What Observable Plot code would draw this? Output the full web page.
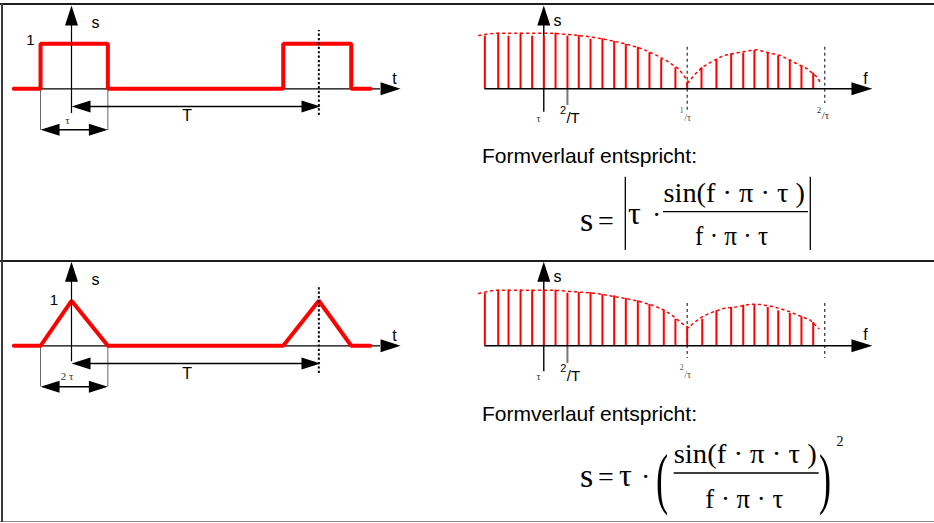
<!DOCTYPE html>
<html><head><meta charset="utf-8">
<script src="https://cdn.jsdelivr.net/npm/d3@7"></script>
<script src="https://cdn.jsdelivr.net/npm/@observablehq/plot@0.6"></script>
<style>
body{margin:0;background:#fff}
#wrap{position:relative;width:934px;height:523px;background:#fff;overflow:hidden;font-family:"Liberation Sans",Arial,sans-serif}
.panel{position:absolute}
.panel svg{overflow:visible;background:none}
.bar{position:absolute;z-index:5}
#formulas{position:absolute;left:0;top:0;z-index:4}
</style></head><body>
<div id="wrap">
  <div class="panel" id="p11" style="left:0;top:4px"></div>
  <div class="panel" id="p12" style="left:467px;top:4px"></div>
  <div class="panel" id="p21" style="left:0;top:261px"></div>
  <div class="panel" id="p22" style="left:467px;top:261px"></div>
  <div class="bar" style="left:0;top:3px;width:934px;height:2px;background:#1e1e1e"></div>
  <div class="bar" style="left:0;top:260px;width:934px;height:2px;background:#1e1e1e"></div>
  <div class="bar" style="left:0;top:520.5px;width:934px;height:1.5px;background:#8a8a8a"></div>
  <div class="bar" style="left:1px;top:3px;width:1.5px;height:519px;background:#3a3a3a"></div>
</div>
<script>
// ---------- data (time in units of tau, frequency in units of 1/tau, amplitude normalised) ----------
const rectT = [-0.857, -0.46, -0.46, 0.54, 0.54, 3.146, 3.146, 4.156, 4.156, 4.443];
const rectS = [0, 0, 1, 1, 0, 0, 1, 1, 0, 0];
const triT = [-0.857, -0.46, 0, 0.54, 3.146, 3.675, 4.156, 4.443];
const triS = [0, 0, 1, 0, 0, 1, 0, 0];

const lineF1 = [-0.411,-0.318,-0.246,-0.162,-0.081,0,0.082,0.165,0.244,0.326,0.409,0.491,0.572,0.656,0.737,0.819,0.918,1.0,1.100,1.204,1.307,1.391,1.469,1.562,1.635,1.716,1.797,1.879];
const lineS1 = [0.946,1.0,0.946,1.0,0.946,0.946,1.0,0.946,0.959,0.892,0.899,0.851,0.797,0.748,0.647,0.527,0.378,0.119,0.378,0.522,0.629,0.640,0.689,0.647,0.586,0.522,0.419,0.281];
const envF1 = [-0.453,-0.384,-0.337,0.059,0.198,0.291,0.407,0.5,0.593,0.686,0.779,0.861,0.941,1.011,1.046,1.105,1.185,1.255,1.349,1.441,1.488,1.581,1.651,1.743,1.837,1.907,1.930];
const envS1 = [0.959,0.989,1.0,1.0,0.971,0.946,0.899,0.851,0.791,0.719,0.612,0.496,0.360,0.119,0.239,0.388,0.509,0.599,0.647,0.689,0.701,0.640,0.599,0.478,0.360,0.209,0.101];

const lineF2 = [-0.411,-0.318,-0.246,-0.162,-0.081,0,0.082,0.165,0.244,0.326,0.409,0.491,0.572,0.656,0.737,0.837,0.918,1.0,1.105,1.204,1.307,1.391,1.469,1.562,1.635,1.716,1.797,1.879];
const lineS2 = [0.946,1,1,1,1,1,1,0.946,0.959,0.959,0.923,0.899,0.851,0.809,0.743,0.640,0.478,0.324,0.478,0.629,0.689,0.730,0.743,0.689,0.629,0.581,0.522,0.419];
const envF2 = [-0.453,-0.384,-0.337,0.059,0.128,0.221,0.291,0.384,0.477,0.570,0.662,0.756,0.826,0.895,0.965,1.011,1.046,1.116,1.185,1.255,1.349,1.441,1.511,1.604,1.697,1.790,1.860,1.918];
const envS2 = [0.941,0.982,1.0,1.0,0.989,0.971,0.959,0.935,0.892,0.851,0.802,0.730,0.658,0.550,0.401,0.324,0.414,0.540,0.612,0.671,0.701,0.748,0.743,0.701,0.629,0.532,0.460,0.311];

const timeTickLabels = ["1", "s", "t", "T"];
const widthLabels = ["τ", "2 τ"];
const freqAxisLabels = ["s", "f", "τ"];
const freqTickLabels1 = [["2", "/T"], ["1", "/τ"], ["2", "/τ"]];
const freqTickLabels2 = [["2", "/T"], ["2", "/τ"]];
const captionText = "Formverlauf entspricht:";

// ---------- helpers ----------
const RED = "#ff0000";
const SANS = "Liberation Sans, Arial, sans-serif";
const SERIF = "Liberation Serif, Times New Roman, serif";
function arrowSym(dir, L, W) {
  return {draw(ctx) {
    if (dir === "right") { ctx.moveTo(0,0); ctx.lineTo(-L,-W); ctx.lineTo(-L,W); }
    else if (dir === "left") { ctx.moveTo(0,0); ctx.lineTo(L,-W); ctx.lineTo(L,W); }
    else { ctx.moveTo(0,0); ctx.lineTo(-W,L); ctx.lineTo(W,L); }
    ctx.closePath();
  }};
}
function head(x, y, dir, L, W) {
  return Plot.dot([{x, y}], {x: "x", y: "y", symbol: arrowSym(dir, L, W), fill: "black", stroke: "none", r: 5});
}
function lbl(x, y, text, opts = {}) {
  return Plot.text([{x, y, text}], {x: "x", y: "y", text: "text", fontFamily: SANS, fontSize: 15, fill: "black", ...opts});
}
const zipTS = (T, S) => T.map((t, i) => ({t, s: S[i]}));
const zipFS = (F, S) => F.map((f, i) => ({f, s: S[i]}));

// ---------- time-domain panels ----------
function timePanel(sig, c) {
  return Plot.plot({
    width: 466, height: 257, margin: 0, axis: null,
    x: {domain: [-1.055, 5.869]}, y: {domain: [-3.838, 1.873]},
    style: {background: "none", overflow: "visible"},
    marks: [
      Plot.ruleX([-0.46, 0.54], {y1: 0, y2: c.grayBottom, stroke: "#666", strokeWidth: 1}),
      Plot.ruleY([0], {x1: -0.857, x2: 4.591, stroke: "black", strokeWidth: 1.2}),
      head(4.889, 0, "right", 20, 6.5),
      Plot.line(sig, {x: "t", y: "s", stroke: RED, strokeWidth: 4, strokeLinejoin: "miter", curve: "linear"}),
      Plot.ruleX([0], {y1: c.yBottom, y2: c.yTip - 0.3, stroke: "black", strokeWidth: 1.2}),
      head(0, c.yTip, "up", 20, 6.5),
      Plot.ruleX([3.675], {y1: c.dotBottom, y2: c.dotTop, stroke: "black", strokeWidth: 2, strokeDasharray: "2.2,2.2"}),
      Plot.ruleY([c.TY], {x1: 0.2, x2: 3.5, stroke: "black", strokeWidth: 1.6}),
      head(0, c.TY, "left", 19, 6),
      head(3.70, c.TY, "right", 19, 6),
      Plot.ruleY([c.tauY], {x1: -0.3, x2: 0.4, stroke: "black", strokeWidth: 1.6}),
      head(-0.46, c.tauY, "left", 19, 6),
      head(0.54, c.tauY, "right", 19, 6),
      lbl(c.one[0], c.one[1], timeTickLabels[0], {fontSize: 15}),
      lbl(0.357, 1.458, timeTickLabels[1], {fontSize: 16}),
      lbl(4.8, c.tY, timeTickLabels[2], {fontSize: 16}),
      lbl(1.719, c.TLab, timeTickLabels[3], {fontSize: 16}),
      lbl(c.wLab[0], c.wLab[1], c.wText, {fontFamily: SERIF, fontSize: c.wSize, fill: "#333"})
    ]
  });
}

// ---------- spectrum panels ----------
function freqPanel(lines, env, c) {
  const marks = [
    Plot.ruleX([0], {y1: c.yBottom, y2: c.yTip - 0.2, stroke: "black", strokeWidth: 1.4}),
    head(0, c.yTip, "up", 20, 6.5),
    Plot.ruleX(c.dashes, {x: "f", y1: "top", y2: "bottom", stroke: "black", strokeWidth: 1, strokeDasharray: "3,3"}),
    Plot.ruleX([0.165], {y1: 0, y2: c.tickBottom, stroke: "#777", strokeWidth: 2}),
    Plot.ruleX(lines, {x: "f", y1: 0, y2: "s", stroke: RED, strokeWidth: 2}),
    Plot.line(env, {x: "f", y: "s", stroke: RED, strokeWidth: 1.5, strokeDasharray: "2,4", curve: "linear"}),
    Plot.ruleY([0], {x1: -0.411, x2: 2.153, stroke: "black", strokeWidth: 1.4}),
    head(2.292, 0, "right", 21, 6.5),
    lbl(0.096, c.sY, freqAxisLabels[0], {fontSize: 16}),
    lbl(2.243, c.fY, freqAxisLabels[1], {fontSize: 16}),
    lbl(-0.037, c.tauY, freqAxisLabels[2], {fontFamily: SERIF, fontSize: 10, fill: "#333"})
  ];
  for (const t of c.ticks) {
    marks.push(lbl(t.x1, t.y1, t.a, {fontSize: t.s1, fill: t.col, fontFamily: t.font, textAnchor: "end"}));
    marks.push(lbl(t.x2, t.y2, t.b, {fontSize: t.s2, fill: t.col, fontFamily: t.font, textAnchor: "start"}));
  }
  return Plot.plot({
    width: 467, height: 257, margin: 0, axis: null,
    x: {domain: [-0.532, 2.725]}, y: {domain: [-3.106, 1.516]},
    style: {background: "none", overflow: "visible"},
    marks
  });
}

document.getElementById("p11").append(timePanel(zipTS(rectT, rectS), {
  grayBottom: -0.927, yBottom: -0.549, yTip: 1.851, dotTop: 1.296, dotBottom: -0.593,
  TY: -0.393, tauY: -0.911, one: [-0.609, 1.073], tY: 0.229, TLab: -0.593,
  wLab: [-0.059, -0.704], wText: widthLabels[0], wSize: 11
}));
document.getElementById("p21").append(timePanel(zipTS(triT, triS), {
  grayBottom: -0.911, yBottom: -0.356, yTip: 1.867, dotTop: 1.289, dotBottom: -0.616,
  TY: -0.393, tauY: -0.911, one: [-0.263, 1.013], tY: 0.222, TLab: -0.616,
  wLab: [-0.064, -0.689], wText: widthLabels[1], wSize: 11
}));
document.getElementById("p12").append(freqPanel(zipFS(lineF1, lineS1), zipFS(envF1, envS1), {
  yBottom: -0.421, yTip: 1.498, tickBottom: -0.30,
  dashes: [{f: 1.0, top: 0.748, bottom: -0.408}, {f: 1.96, top: 0.748, bottom: -0.264}],
  sY: 1.228, fY: 0.185, tauY: -0.534,
  ticks: [
    {a: freqTickLabels1[0][0], b: freqTickLabels1[0][1], x1: 0.155, y1: -0.392, x2: 0.158, y2: -0.525, s1: 11, s2: 15, col: "black", font: SANS},
    {a: freqTickLabels1[1][0], b: freqTickLabels1[1][1], x1: 0.976, y1: -0.39, x2: 0.979, y2: -0.52, s1: 8, s2: 10, col: "#555", font: SERIF},
    {a: freqTickLabels1[2][0], b: freqTickLabels1[2][1], x1: 1.935, y1: -0.39, x2: 1.938, y2: -0.48, s1: 9, s2: 11, col: "#333", font: SERIF}
  ]
}));
document.getElementById("p22").append(freqPanel(zipFS(lineF2, lineS2), zipFS(envF2, envS2), {
  yBottom: -0.468, yTip: 1.511, tickBottom: -0.318,
  dashes: [{f: 1.0, top: 0.761, bottom: -0.228}, {f: 1.96, top: 0.761, bottom: -0.228}],
  sY: 1.24, fY: 0.19, tauY: -0.558,
  ticks: [
    {a: freqTickLabels2[0][0], b: freqTickLabels2[0][1], x1: 0.158, y1: -0.41, x2: 0.161, y2: -0.555, s1: 11, s2: 15, col: "black", font: SANS},
    {a: freqTickLabels2[1][0], b: freqTickLabels2[1][1], x1: 0.976, y1: -0.396, x2: 0.979, y2: -0.529, s1: 8, s2: 10, col: "#555", font: SERIF}
  ]
}));

// ---------- caption + formulas (text overlay) ----------
const svg = d3.select("#wrap").append("svg").attr("id", "formulas").attr("width", 934).attr("height", 523);
function t(x, y, s, size, opts = {}) {
  const e = svg.append("text").attr("x", x).attr("y", y).text(s)
    .attr("font-family", opts.font || SERIF).attr("font-size", size).attr("fill", "black");
  if (opts.len) e.attr("textLength", opts.len).attr("lengthAdjust", "spacingAndGlyphs");
  if (opts.anchor) e.attr("text-anchor", opts.anchor);
  return e;
}
function ln(x1, y1, x2, y2, w) {
  svg.append("line").attr("x1", x1).attr("y1", y1).attr("x2", x2).attr("y2", y2).attr("stroke", "black").attr("stroke-width", w);
}
// row 1
t(482, 162.5, captionText, 21, {font: SANS, len: 215});
t(580, 230.5, "s", 34);
t(598, 230, "=", 28);
ln(625.3, 176.7, 625.3, 250, 1.3);
t(628, 224, "τ", 32);
t(652, 224, "·", 28);
t(663.5, 202, "sin(f · π · τ )", 28, {len: 141.5});
ln(663, 211.7, 808, 211.7, 1.3);
t(695, 245, "f · π · τ", 28, {len: 73});
ln(810.3, 176.7, 810.3, 250, 1.3);
// row 2
t(482, 421.3, captionText, 21, {font: SANS, len: 215});
t(580, 486.5, "s", 34);
t(598, 486, "=", 28);
t(619, 486, "τ", 32);
t(641, 486, "·", 28);
svg.append("text").attr("transform", "translate(656,500.5) scale(1.3,2.4)").text("(")
  .attr("font-family", SERIF).attr("font-size", 28);
t(673.7, 463, "sin(f · π · τ )", 28, {len: 143});
ln(673.7, 473, 818.7, 473, 1.3);
t(705.3, 508, "f · π · τ", 28, {len: 78});
svg.append("text").attr("transform", "translate(819,500.5) scale(1.3,2.4)").text(")")
  .attr("font-family", SERIF).attr("font-size", 28);
t(836.5, 446.3, "2", 14);
</script>
</body></html>
